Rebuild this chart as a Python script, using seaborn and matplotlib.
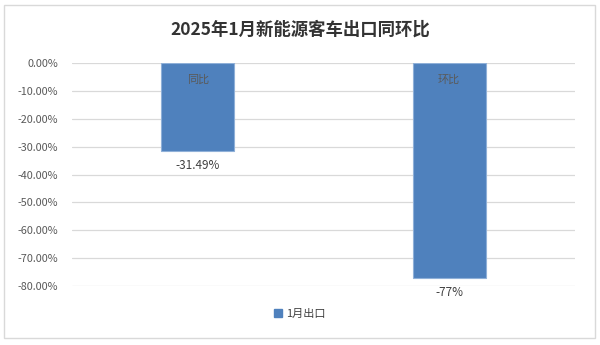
import matplotlib
matplotlib.use("Agg")
import matplotlib.pyplot as plt
import seaborn as sns
import pandas as pd
from matplotlib.patches import Rectangle, Patch
from matplotlib.ticker import FuncFormatter

categories = ["同比", "环比"]
values = [-31.49, -77]
value_labels = ["-31.49%", "-77%"]
series_name = "1月出口"
title = "2025年1月新能源客车出口同环比"

sns.set_theme(style="white")
plt.rcParams["font.family"] = ["Noto Sans CJK SC", "DejaVu Sans"]

df = pd.DataFrame({"category": categories, "value": values, "series": series_name})

fig = plt.figure(figsize=(6, 3.45), dpi=100)
fig.patch.set_facecolor("white")
fig.add_artist(Rectangle((0.006, 0.02), 0.986, 0.965, transform=fig.transFigure,
                         fill=False, edgecolor="#d9d9d9", linewidth=1.0))

ax = fig.add_axes([0.12, 0.171, 0.838, 0.646])
bar_color = "#4f81bd"
sns.barplot(data=df, x="category", y="value", color=bar_color, saturation=1,
            width=0.29, edgecolor="#8fb0d8", linewidth=0.8, ax=ax, zorder=3)

ax.set_ylim(-80, 0)
ax.set_yticks(range(-80, 1, 10))
ax.yaxis.set_major_formatter(FuncFormatter(lambda v, _: f"{v:.2f}%"))
ax.tick_params(axis="y", labelsize=7.8, colors="#595959", length=0, pad=10)
ax.set_xticks([])
ax.set_xlabel("")
ax.set_ylabel("")
ax.grid(axis="y", color="#d9d9d9", linewidth=0.9, zorder=0)
for s in ax.spines.values():
    s.set_visible(False)

for i, (cat, v, lab) in enumerate(zip(categories, values, value_labels)):
    ax.text(i, -6, cat, ha="center", va="center", fontsize=8, color="#5a5a5a", zorder=4)
    ax.annotate(lab, (i, v), xytext=(0, -6), textcoords="offset points",
                ha="center", va="top", fontsize=8.5, color="#404040")

fig.text(0.5, 0.913, title, ha="center", va="center", fontsize=12.5,
         fontweight="bold", color="#333333")

handle = Patch(facecolor=bar_color, edgecolor=bar_color)
fig.legend([handle], [series_name], loc="center", bbox_to_anchor=(0.5, 0.09),
           frameon=False, fontsize=8, handlelength=0.7, handleheight=0.7,
           handletextpad=0.4, labelcolor="#404040")

fig.savefig("out.png", dpi=100, facecolor="white")
